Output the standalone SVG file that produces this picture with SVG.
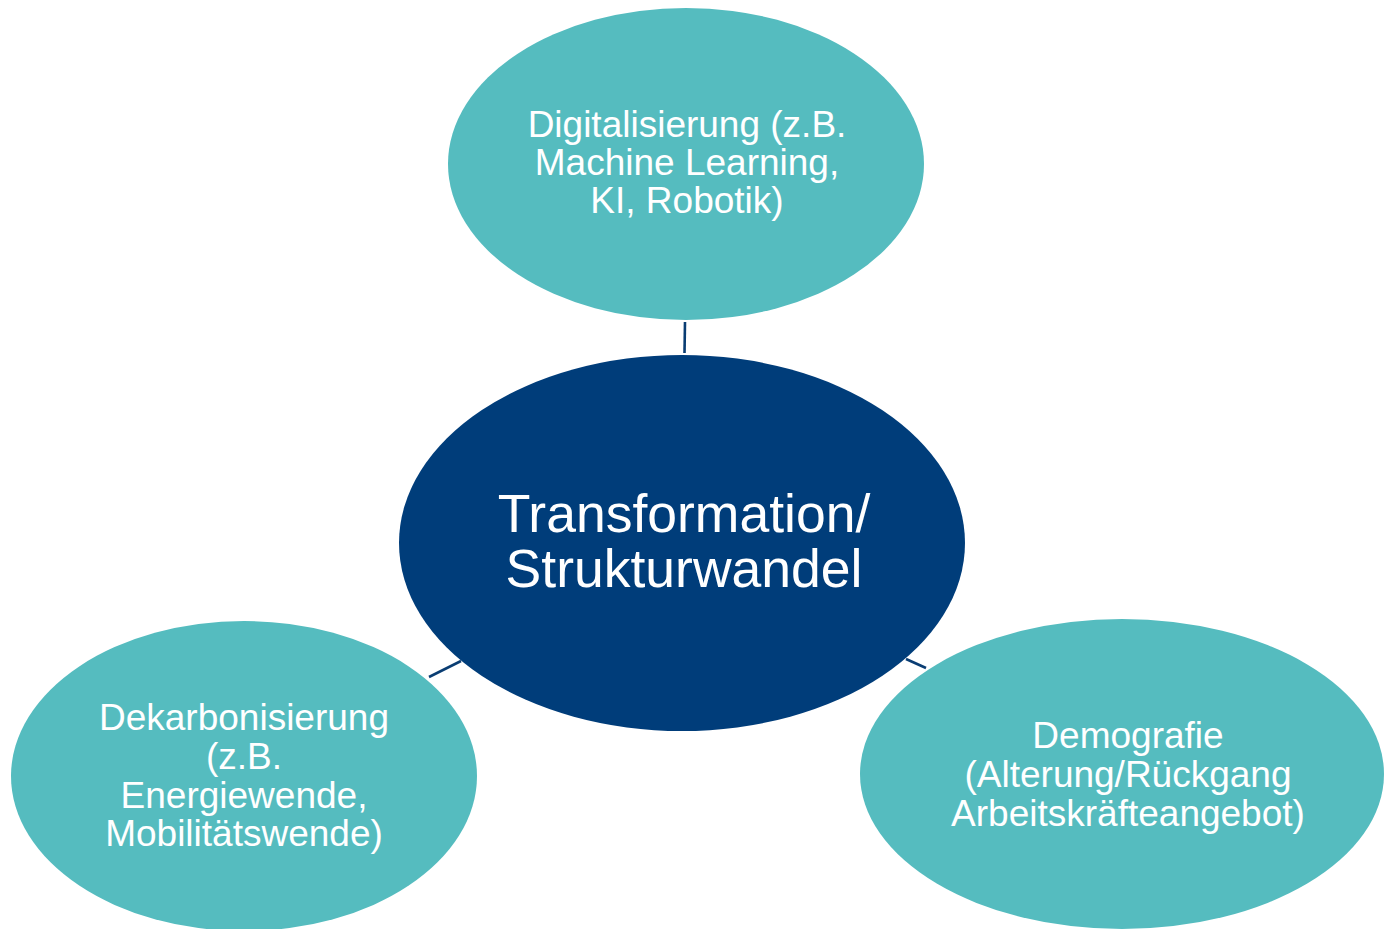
<svg xmlns="http://www.w3.org/2000/svg" width="1384" height="929" viewBox="0 0 1384 929">
  <style>
    .outer { fill: #55BCBF; }
    .core { fill: #003D7A; }
    .link { stroke: #0A3D73; stroke-width: 2.6; fill: none; }
    .label { fill: #FFFFFF; font-family: "Liberation Sans", Arial, sans-serif; text-anchor: middle; }
    .small { font-size: 37px; }
    .big { font-size: 53.5px; }
  </style>
  <rect width="1384" height="929" fill="#FFFFFF"/>

  <!-- connectors between the centre and the three drivers -->
  <g id="connectors">
    <line class="link" x1="685" y1="322" x2="684.5" y2="353"/>
    <line class="link" x1="429" y1="677" x2="461" y2="661"/>
    <line class="link" x1="906" y1="659" x2="926" y2="668"/>
  </g>

  <g id="node-digitalisierung">
    <ellipse class="outer" cx="686" cy="164" rx="238" ry="156"/>
    <text class="label small" x="687" y="137">Digitalisierung (z.B.</text>
    <text class="label small" x="687" y="175">Machine Learning,</text>
    <text class="label small" x="687" y="213">KI, Robotik)</text>
  </g>

  <g id="node-transformation">
    <ellipse class="core" cx="682" cy="543" rx="283" ry="188"/>
    <text class="label big" x="684" y="532">Transformation/</text>
    <text class="label big" x="684" y="587">Strukturwandel</text>
  </g>

  <g id="node-dekarbonisierung">
    <ellipse class="outer" cx="244" cy="776" rx="233" ry="155"/>
    <text class="label small" x="244" y="730">Dekarbonisierung</text>
    <text class="label small" x="244" y="769">(z.B.</text>
    <text class="label small" x="244" y="808">Energiewende,</text>
    <text class="label small" x="244" y="846">Mobilitätswende)</text>
  </g>

  <g id="node-demografie">
    <ellipse class="outer" cx="1122" cy="774" rx="262" ry="155"/>
    <text class="label small" x="1128" y="748">Demografie</text>
    <text class="label small" x="1128" y="787">(Alterung/Rückgang</text>
    <text class="label small" x="1128" y="826">Arbeitskräfteangebot)</text>
  </g>
</svg>
